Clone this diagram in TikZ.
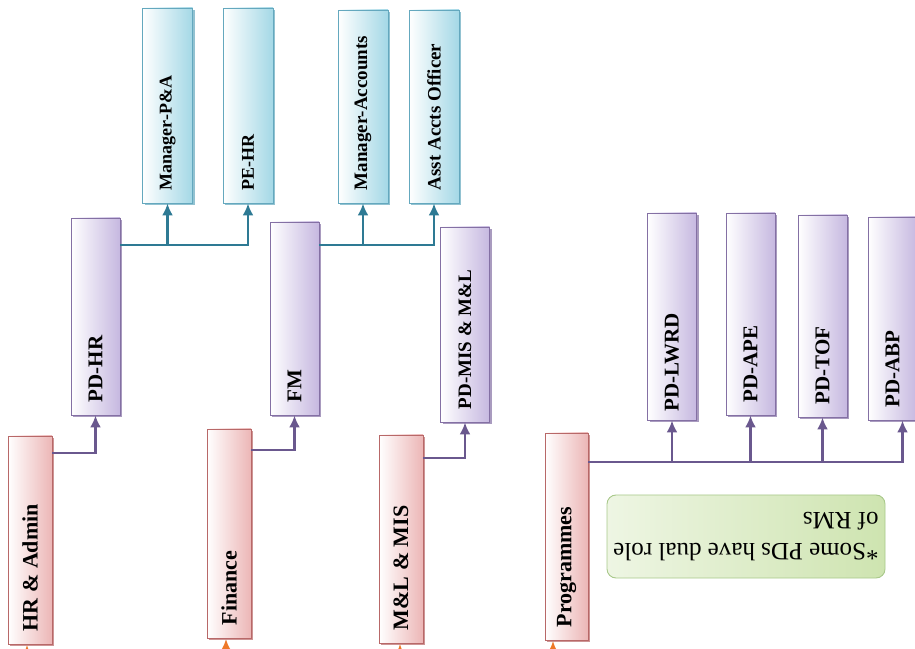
\documentclass[tikz,border=0pt]{standalone}
\usepackage{fontspec}
\setmainfont{Liberation Serif}
\usetikzlibrary{arrows.meta,shadows}

\definecolor{pinkfill}{RGB}{236,182,182}
\definecolor{pinkline}{RGB}{184,104,104}
\definecolor{purpfill}{RGB}{198,184,224}
\definecolor{purpline}{RGB}{132,112,164}
\definecolor{bluefill}{RGB}{164,216,230}
\definecolor{blueline}{RGB}{100,168,190}
\definecolor{notefill}{RGB}{206,228,176}
\definecolor{noteline}{RGB}{168,200,138}
\definecolor{purpwire}{RGB}{106,88,142}
\definecolor{bluewire}{RGB}{46,122,148}
\definecolor{orangewire}{RGB}{238,120,40}

\begin{document}
\begin{tikzpicture}[x=1pt, y=1pt,
    box/.style={draw=#1line, line width=0.9pt, left color=white, right color=#1fill,
        inner sep=0pt, general shadow={fill=#1line!70, shadow xshift=2.2pt, shadow yshift=-1.8pt}},
    dept/.style={box=pink, minimum width=44pt, minimum height=#1},
    pd/.style={box=purp, minimum width=49pt, minimum height=#1},
    post/.style={box=blue, minimum width=50pt, minimum height=#1},
    vtext/.style={rotate=90, anchor=west, inner xsep=13pt, inner ysep=0pt,
        font=\bfseries\fontsize{#1}{#1}\selectfont},
    pwire/.style={draw=purpwire, line width=2.4pt, -{Latex[length=12pt,width=11pt]}},
    bwire/.style={draw=bluewire, line width=2.4pt, -{Latex[length=12pt,width=11pt]}},
    owire/.style={draw=orangewire, line width=2.4pt, -{Latex[length=12pt,width=11pt]}, shorten >=0.5pt},
    note/.style={draw=noteline, line width=0.9pt, rounded corners=9pt, rotate=180,
        left color=notefill!35, right color=notefill, minimum width=278pt, minimum height=83pt,
        align=left, font=\fontsize{25}{31}\selectfont}]
    \useasboundingbox (0,0) rectangle (915,648);

    % departments
    \node[dept=208pt, label={[vtext=22pt]south:HR \& Admin}] (hr) at (30,108) {};
    \node[dept=209pt, label={[vtext=22pt]south:Finance}] (fin) at (229,114.5) {};
    \node[dept=208pt, label={[vtext=22pt]south:M\&L \& MIS}] (mle) at (401,109) {};
    \node[dept=207pt, minimum width=43pt, label={[vtext=22pt]south:Programmes}] (prog) at (566.5,111.5) {};

    % PDs and FM
    \node[pd=197pt, label={[vtext=21pt]south:PD-HR}] (pdhr) at (95.5,331.5) {};
    \node[pd=193pt, label={[vtext=21pt]south:FM}] (fm) at (294.5,329.5) {};
    \node[pd=195pt, label={[vtext=19pt]south:PD-MIS \& M\&L}] (pdmis) at (465,323.5) {};
    \node[pd=207pt, label={[vtext=21pt, inner xsep=9pt]south:PD-LWRD}] (lwrd) at (672,331.5) {};
    \node[pd=202pt, label={[vtext=21pt]south:PD-APE}] (ape) at (750.5,334) {};
    \node[pd=202pt, label={[vtext=21pt]south:PD-TOF}] (tof) at (822.5,332) {};
    \node[pd=203pt, label={[vtext=21pt]south:PD-ABP}] (abp) at (892.5,329.5) {};

    % staff
    \node[post=195pt, label={[vtext=18pt]south:Manager-P\&A}] (mpa) at (167.5,542.5) {};
    \node[post=195pt, label={[vtext=18pt]south:PE-HR}] (pehr) at (248,542.5) {};
    \node[post=193pt, label={[vtext=19pt]south:Manager-Accounts}] (macc) at (363,541.5) {};
    \node[post=193pt, label={[vtext=19pt]south:Asst Accts Officer}] (aao) at (434,541.5) {};

    % note
    \node[note] (dual) at (746,111.5) {*Some PDs have dual role\\of RMs};

    % department to PD
    \draw[pwire] (hr.east |- 0,195) -| (pdhr.south);
    \draw[pwire] (fin.east |- 0,198) -| (fm.south);
    \draw[pwire] (mle.east |- 0,190) -| (pdmis.south);
    \coordinate (ptrunk) at (prog.east |- 0,186);
    \draw[pwire] (ptrunk) -| ([xshift=10pt]abp.south);
    \foreach \n in {lwrd,ape,tof}
        \draw[pwire] (\n.south |- ptrunk) -- (\n.south);

    % PD to staff
    \draw[bwire] (pdhr.east |- 0,403) -| (pehr.south);
    \draw[bwire] (mpa.south |- 0,403) -- (mpa.south);
    \draw[bwire] (fm.east |- 0,403) -| (aao.south);
    \draw[bwire] (macc.south |- 0,403) -- (macc.south);

    % incoming arrows
    \foreach \n/\x in {hr/27,fin/226,mle/400,prog/553}
        \draw[owire] (\x,-25) coordinate (\n-in) -- (\n-in |- \n.south);
\end{tikzpicture}
\end{document}
